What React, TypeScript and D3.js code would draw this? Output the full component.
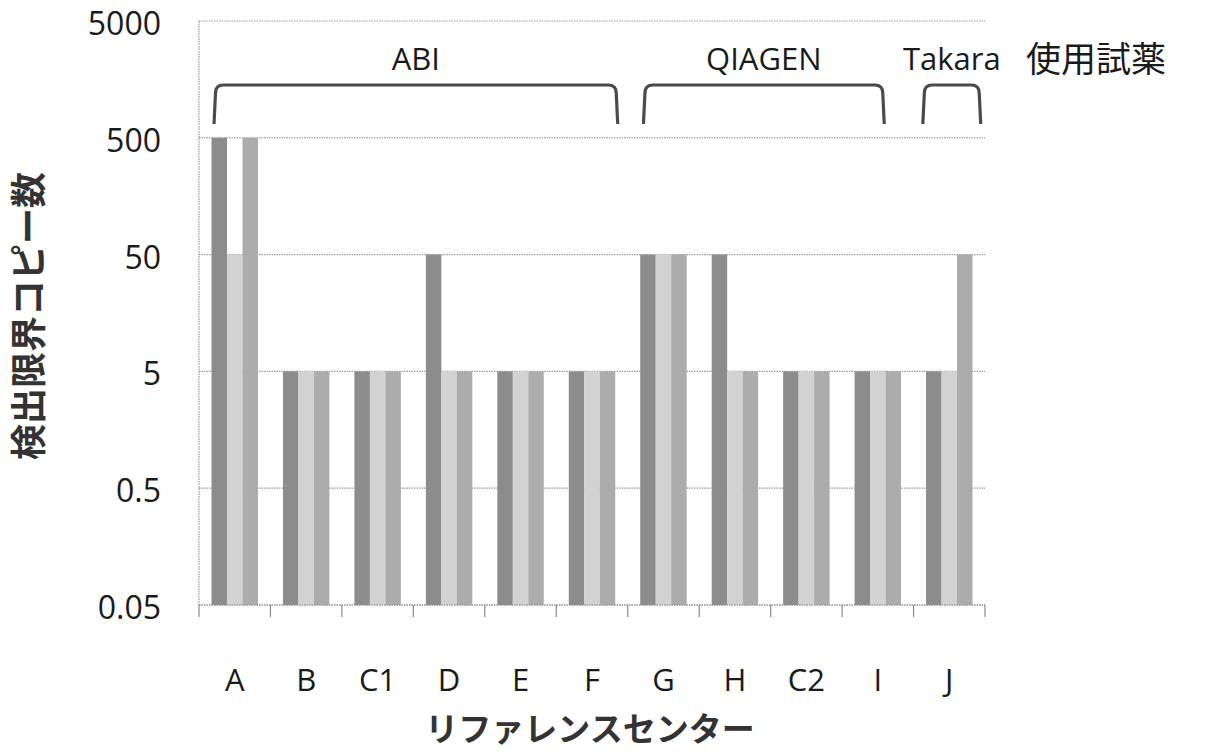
import React from "react";
import * as d3 from "d3";

// 検出限界コピー数 per reference center, three runs each
const centers = ["A", "B", "C1", "D", "E", "F", "G", "H", "C2", "I", "J"];
const run1 = [500, 5, 5, 50, 5, 5, 50, 50, 5, 5, 5];
const run2 = [50, 5, 5, 5, 5, 5, 50, 5, 5, 5, 5];
const run3 = [500, 5, 5, 5, 5, 5, 50, 5, 5, 5, 50];
const yTicks = [0.05, 0.5, 5, 50, 500, 5000];
const yTickLabels = ["0.05", "0.5", "5", "50", "500", "5000"];

// reagent groups, spans in category units
const reagentNames = ["ABI", "QIAGEN", "Takara"];
const reagentStart = [0.21, 6.22, 10.13];
const reagentEnd = [5.86, 9.59, 10.94];

const seriesColors = ["#8c8c8c", "#d2d2d2", "#acacac"];

export default function App() {
  const W = 1221;
  const H = 752;
  const left = 199;
  const right = 985;
  const top = 21;
  const bottom = 605;

  const x = d3.scaleBand<string>().domain(centers).range([left, right]).paddingInner(0).paddingOuter(0);
  const xu = d3.scaleLinear().domain([0, centers.length]).range([left, right]);
  const y = d3.scaleLog().domain([0.05, 5000]).range([bottom, top]);
  const bw = x.bandwidth();
  const groupW = bw * 0.65;
  const barW = groupW / 3;
  const series = [run1, run2, run3];

  const font = "'Open Sans', 'Noto Sans', sans-serif";
  const jp = "'Noto Sans CJK JP', sans-serif";

  const bracketTop = 85;
  const bracketBottom = 124;
  const r = 8;

  return (
    <svg width={W} height={H} style={{ position: "absolute", left: 0, top: 0, background: "#fff" }}>
      {/* grid */}
      {yTicks.map((t) => (
        <line key={"g" + t} x1={left} x2={right} y1={y(t)} y2={y(t)} stroke="#9a9a9a" strokeWidth={1.2} strokeDasharray="1.5 1" />
      ))}
      <line x1={left} x2={left} y1={top} y2={bottom} stroke="#9a9a9a" strokeWidth={1.2} strokeDasharray="1.5 1" />
      {/* category ticks */}
      {d3.range(centers.length + 1).map((i) => (
        <line key={"t" + i} x1={xu(i)} x2={xu(i)} y1={bottom} y2={bottom + 12} stroke="#8a8a8a" strokeWidth={1.2} />
      ))}
      {/* bars */}
      {centers.map((c) =>
        series.map((s, si) => {
          const v = s[centers.indexOf(c)];
          const x0 = (x(c) as number) + (bw - groupW) / 2 + si * barW;
          return (
            <rect key={c + si} x={x0} y={y(v)} width={barW} height={y(0.05) - y(v)} fill={seriesColors[si]} />
          );
        })
      )}
      <line x1={left} x2={right} y1={bottom} y2={bottom} stroke="#8a8a8a" strokeWidth={1.2} strokeDasharray="1.5 1" />
      {/* y tick labels */}
      {yTicks.map((t, i) => (
        <text key={"yl" + t} x={161} y={y(t)} dy="0.44em" textAnchor="end" fontFamily={font} fontSize={32} fill="#1a1a1a">
          {yTickLabels[i]}
        </text>
      ))}
      {/* x tick labels */}
      {centers.map((c) => (
        <text key={"xl" + c} x={(x(c) as number) + bw / 2} y={691} textAnchor="middle" fontFamily={font} fontSize={31} fill="#1a1a1a">
          {c}
        </text>
      ))}
      {/* reagent brackets */}
      {reagentNames.map((n, i) => {
        const x0 = xu(reagentStart[i]);
        const x1 = xu(reagentEnd[i]);
        const d = `M${x0},${bracketBottom} L${x0 + 1.5},${bracketTop + r} Q${x0 + 1.5},${bracketTop} ${x0 + 1.5 + r},${bracketTop} L${x1 - 1.5 - r},${bracketTop} Q${x1 - 1.5},${bracketTop} ${x1 - 1.5},${bracketTop + r} L${x1},${bracketBottom}`;
        return (
          <g key={n}>
            <path d={d} fill="none" stroke="#4a4a4a" strokeWidth={3.2} />
            <text x={(x0 + x1) / 2} y={70} textAnchor="middle" fontFamily={font} fontSize={31} fill="#1a1a1a">
              {n}
            </text>
          </g>
        );
      })}
      <text x={1096} y={72} textAnchor="middle" fontFamily={jp} fontSize={35} fill="#1a1a1a">
        使用試薬
      </text>
      {/* axis titles */}
      <text x={590} y={741} textAnchor="middle" fontFamily={jp} fontWeight={700} fontSize={33} fill="#333">
        リファレンスセンター
      </text>
      <text
        transform={`translate(29,316) rotate(-90)`}
        textAnchor="middle"
        dy="0.36em"
        fontFamily={jp}
        fontWeight={700}
        fontSize={36}
        fill="#333"
      >
        検出限界コピー数
      </text>
    </svg>
  );
}
